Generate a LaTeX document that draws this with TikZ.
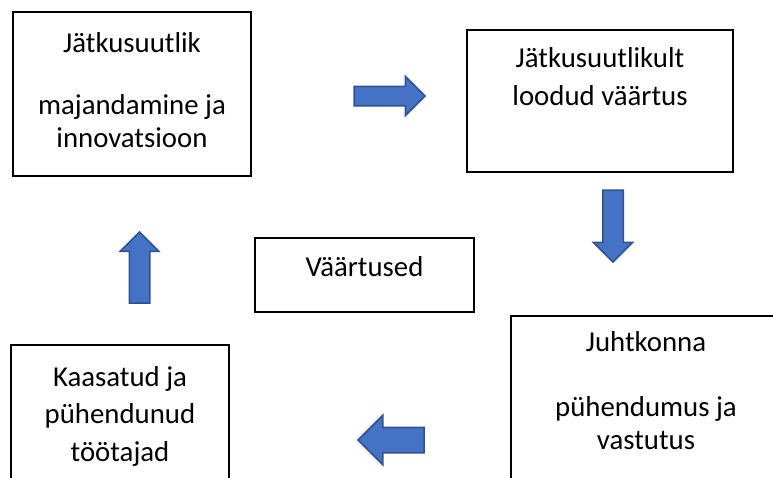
\documentclass[tikz,border=0pt]{standalone}
\usepackage{fontspec}
\setmainfont{Carlito}
\usepackage{tikz}
\usetikzlibrary{calc,shapes.arrows}
\definecolor{arrowblue}{RGB}{ 68, 114, 196 }
\definecolor{arrowedge}{RGB}{ 47, 82, 143 }

\begin{document}
\begin{tikzpicture}[x=1pt,y=-1pt]
\tikzstyle{box}=[rectangle,draw,line width=1.5pt,inner sep=0]
\tikzstyle{txt}=[align=center,anchor=base,inner sep=0,font=\fontsize{28.8}{33}\selectfont]
\tikzstyle{blockarrow}=[single arrow,draw=arrowedge,fill=arrowblue,line width=1.5pt,inner xsep=0,inner ysep=9pt,single arrow head extend=10pt,anchor=tail,outer sep=0]

\useasboundingbox (0,0) rectangle (773,477);

% boxes
\node(tl)[box,minimum width=238,minimum height=164] at (132,94) {};
\node(tr)[box,minimum width=266,minimum height=142] at (600,101) {};
\node(mid)[box,minimum width=219,minimum height=74] at (364.5,275) {};
\node(bl)[box,minimum width=218,minimum height=150] at (120,420) {};
\node(br)[box,minimum width=270,minimum height=180] at (646,406) {};

% texts (base = last line)
\node(tltext)[txt] at ($(tl.north) + (0,136)$) {Jätkusuutlik\\[29pt] majandamine ja\\ innovatsioon};
\node(trtext)[txt,font=\fontsize{28.8}{38}\selectfont] at ($(tr.north) + (0,76)$) {Jätkusuutlikult\\ loodud väärtus};
\node(midtext)[txt] at ($(mid.north) + (0,39)$) {Väärtused};
\node(bltext)[txt,font=\fontsize{28.8}{37.5}\selectfont] at ($(bl.north) + (0,117)$) {Kaasatud ja\\ pühendunud\\ töötajad};
\node(brtext)[txt] at ($(br.north) + (0,134)$) {Juhtkonna\\[32pt] pühendumus ja\\ vastutus};

% arrows, placed by their tails
\node(right)[blockarrow,minimum height=71] at (354,96) {};
\node(down)[blockarrow,minimum height=72,inner ysep=9.5pt,single arrow head extend=9.5pt,rotate=-90] at (613,190) {};
\node(left)[blockarrow,minimum height=66,inner ysep=12pt,single arrow head extend=12pt,rotate=180] at (424,440) {};
\node(up)[blockarrow,minimum height=71,inner ysep=9.5pt,single arrow head extend=9pt,rotate=90] at (139.5,303) {};

\end{tikzpicture}
\end{document}
